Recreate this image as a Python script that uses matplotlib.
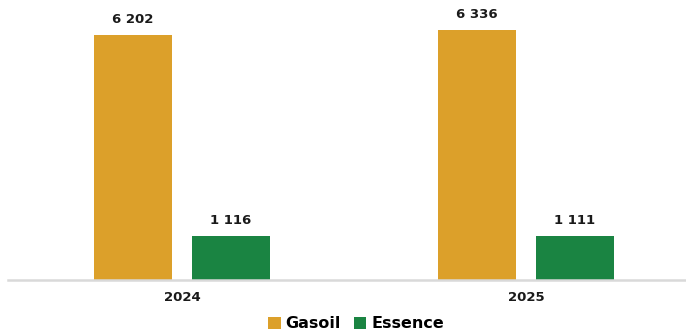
import numpy as np
import matplotlib.pyplot as plt

years = ['2024', '2025']
gasoil = [6202, 6336]
essence = [1116, 1111]

col_gasoil = '#DCA02A'
col_essence = '#1A8442'

def fmt(v):
    return '{:,}'.format(v).replace(',', ' ')

fig = plt.figure(figsize=(6.86, 3.36), dpi=100)
ax = fig.add_axes([8 / 686, 56 / 336, 678 / 686, 280 / 336])

x = np.arange(len(years))
w = 0.227
off = 0.1424
b1 = ax.bar(x - off, gasoil, w, color=col_gasoil, label='Gasoil')
b2 = ax.bar(x + off, essence, w, color=col_essence, label='Essence')

for bars, vals in [(b1, gasoil), (b2, essence)]:
    for b, v in zip(bars, vals):
        ax.text(b.get_x() + b.get_width() / 2, v + 230, fmt(v),
                ha='center', va='bottom', fontsize=9.5, fontweight='bold',
                color='#1a1a1a')

ax.set_xlim(-0.506, 1.465)
ax.set_ylim(0, 7088)
ax.set_xticks(x)
ax.set_xticklabels(years, fontsize=9.5, fontweight='bold', color='#1a1a1a')
ax.tick_params(axis='x', length=0, pad=8)
ax.set_yticks([])
for s in ['top', 'right', 'left']:
    ax.spines[s].set_visible(False)
ax.spines['bottom'].set_color('#D9D9D9')
ax.spines['bottom'].set_linewidth(1.8)

fig.legend(handles=[b1, b2], loc='center', bbox_to_anchor=(356 / 686, 1 - 324 / 336),
           ncol=2, frameon=False, handlelength=0.8, handleheight=0.8,
           handletextpad=0.3, columnspacing=0.8,
           prop={'size': 11.5, 'weight': 'bold'})

fig.savefig('out.png', dpi=100)
